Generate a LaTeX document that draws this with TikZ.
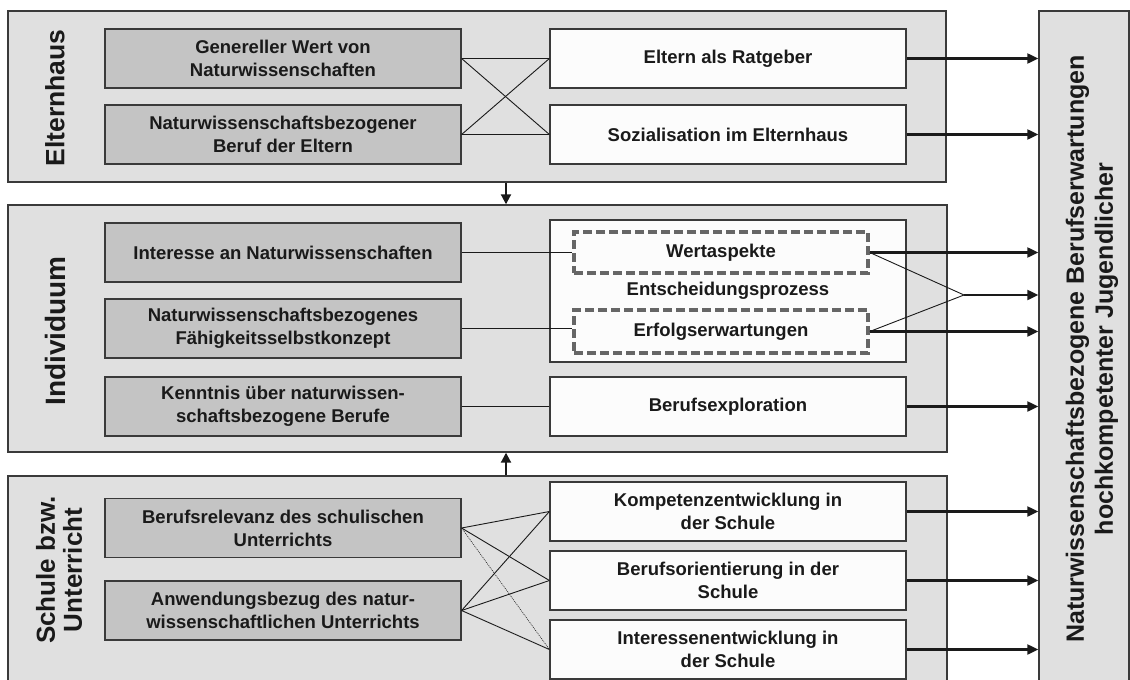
\documentclass[tikz,border=0pt]{standalone}
\usepackage{fontspec}
\setmainfont{Liberation Sans}
\usetikzlibrary{arrows.meta,calc}
\definecolor{outerfill}{HTML}{E0E0E0}
\definecolor{leftfill}{HTML}{C4C4C4}
\definecolor{rightfill}{HTML}{FCFCFC}
\definecolor{edgec}{HTML}{3A3A3A}
\definecolor{dashc}{HTML}{666666}
\definecolor{txt}{HTML}{1A1A1A}
\begin{document}
\begin{tikzpicture}[x=1pt,y=-1pt,
  outerbox/.style={draw=edgec, line width=1.4pt, fill=outerfill, inner sep=0pt},
  basebox/.style={draw=edgec, line width=1.2pt, minimum width=356pt, minimum height=59pt,
    align=center, text=txt, inner sep=0pt, font=\bfseries\fontsize{18.5}{23}\selectfont},
  leftbox/.style={basebox, fill=leftfill},
  rightbox/.style={basebox, fill=rightfill},
  dashbox/.style={draw=dashc, line width=3.5pt, dash pattern=on 9pt off 4pt, fill=rightfill,
    minimum width=294pt, align=center, text=txt, inner sep=0pt, font=\bfseries\fontsize{18.5}{23}\selectfont},
  sidelabel/.style={rotate=90, align=center, text=txt, inner sep=0pt, font=\bfseries\fontsize{26.5}{28}\selectfont},
  conn/.style={draw=txt, line width=0.9pt},
  dotconn/.style={draw=txt, line width=0.6pt, dash pattern=on 1pt off 1pt},
  arr/.style={draw=txt, line width=2.2pt, -{Triangle[length=11pt,width=10pt]}},
  varr/.style={draw=txt, line width=2pt, -{Triangle[length=10pt,width=10pt]}}
]
\useasboundingbox (0,0) rectangle (1130,680);

% outer boxes
\node[outerbox, minimum width=938pt, minimum height=171pt] (E) at (477,96.5) {};
\node[outerbox, minimum width=939pt, minimum height=247pt] (I) at (477.5,328.5) {};
\node[outerbox, minimum width=939pt, minimum height=210pt] (S) at (477.5,581) {};
\node[outerbox, minimum width=90pt, minimum height=680pt] (T) at (1084,351) {};

% side labels
\node[sidelabel] (lE) at (55,98) {Elternhaus};
\node[sidelabel, font=\bfseries\fontsize{28}{30}\selectfont] (lI) at (55,331) {Individuum};
\node[sidelabel, font=\bfseries\fontsize{26}{27}\selectfont] (lS) at (59,570) {Schule bzw.\\Unterricht};
\node[sidelabel, font=\bfseries\fontsize{25}{29}\selectfont] (lT) at (1092,349) {Naturwissenschaftsbezogene Berufserwartungen\\hochkompetenter Jugendlicher};

% Elternhaus
\node[leftbox] (E1) at (283,58.5) {Genereller Wert von\\Naturwissenschaften};
\node[leftbox] (E2) at (283,134.5) {Naturwissenschaftsbezogener\\Beruf der Eltern};
\node[rightbox] (E3) at (728,58.5) {Eltern als Ratgeber};
\node[rightbox] (E4) at (728,134.5) {Sozialisation im Elternhaus};

% Individuum
\node[leftbox] (I1) at (283,252.5) {Interesse an Naturwissenschaften};
\node[leftbox] (I2) at (283,328.5) {Naturwissenschaftsbezogenes\\Fähigkeitsselbstkonzept};
\node[leftbox] (I3) at (283,406.5) {Kenntnis über naturwissen-\\schaftsbezogene Berufe};
\node[rightbox, minimum height=142pt] (ENT) at (728,291) {Entscheidungsprozess};
\node[dashbox, minimum height=41pt] (W) at (721,252.5) {Wertaspekte};
\node[dashbox, minimum height=43pt] (EW) at (721,331.5) {Erfolgserwartungen};
\node[rightbox] (BE) at (728,406.5) {Berufsexploration};

% Schule
\node[leftbox] (S1) at (283,528) {Berufsrelevanz des schulischen\\Unterrichts};
\node[leftbox] (S2) at (283,610.5) {Anwendungsbezug des natur-\\wissenschaftlichen Unterrichts};
\node[rightbox] (S3) at (728,511.5) {Kompetenzentwicklung in\\der Schule};
\node[rightbox] (S4) at (728,580.5) {Berufsorientierung in der\\Schule};
\node[rightbox] (S5) at (728,649.5) {Interessenentwicklung in\\der Schule};

\coordinate (ax) at (506,0);
\coordinate (M) at (964,295);

% Elternhaus connectors
\draw[conn] (E1.east) -- (E3.west);
\draw[conn] (E2.east) -- (E4.west);
\draw[conn] (E1.east) -- (E4.west);
\draw[conn] (E2.east) -- (E3.west);
\draw[arr] (E3.east) -- (E3.east -| T.west);
\draw[arr] (E4.east) -- (E4.east -| T.west);

% between blocks
\draw[varr] (E.south -| ax) -- (I.north -| ax);
\draw[varr] (S.north -| ax) -- (I.south -| ax);

% Individuum connectors
\draw[conn] (I1.east) -- (I1.east -| W.west);
\draw[conn] (I2.east) -- (I2.east -| EW.west);
\draw[conn] (I3.east) -- (BE.west);
\draw[arr] (W.east) -- (W.east -| T.west);
\draw[arr] (EW.east) -- (EW.east -| T.west);
\draw[conn] (W.east) -- (M);
\draw[conn] (EW.east) -- (M);
\draw[arr] (M) -- (M -| T.west);
\draw[arr] (BE.east) -- (BE.east -| T.west);

% Schule connectors
\draw[conn] (S1.east) -- (S3.west);
\draw[conn] (S1.east) -- (S4.west);
\draw[dotconn] (S1.east) -- (S5.west);
\draw[conn] (S2.east) -- (S3.west);
\draw[conn] (S2.east) -- (S4.west);
\draw[conn] (S2.east) -- (S5.west);
\draw[arr] (S3.east) -- (S3.east -| T.west);
\draw[arr] (S4.east) -- (S4.east -| T.west);
\draw[arr] (S5.east) -- (S5.east -| T.west);
\end{tikzpicture}
\end{document}
